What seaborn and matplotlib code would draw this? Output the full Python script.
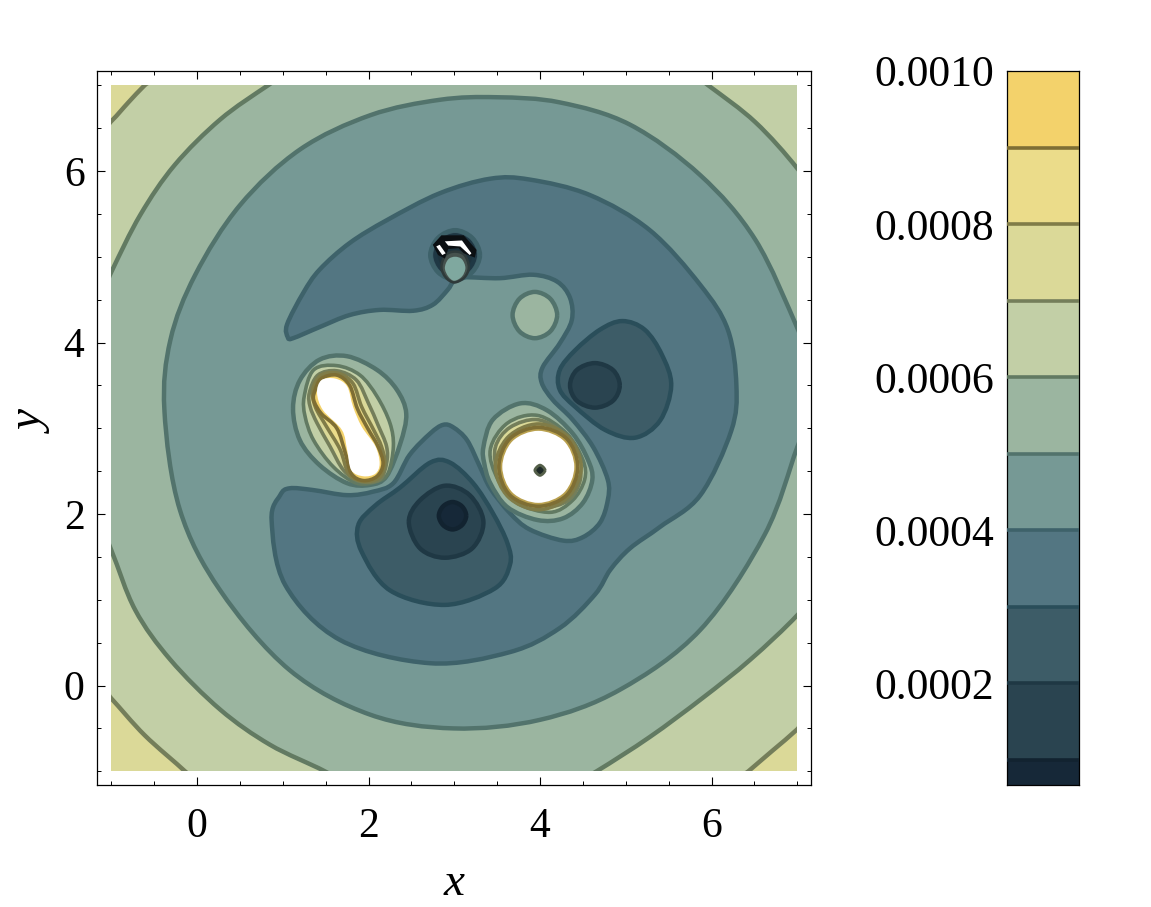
import numpy as np
import matplotlib
matplotlib.use("Agg")
import matplotlib.pyplot as plt
from matplotlib.path import Path
from matplotlib.patches import PathPatch, Rectangle
from matplotlib.colors import ListedColormap
from matplotlib.ticker import MultipleLocator
import seaborn as sns

# ---------- band colours and contour levels (value in units of 1e-4) ----------
CBAR_TICKS = [0.0002, 0.0004, 0.0006, 0.0008, 0.0010]
CBAR_LEVELS = [0.0009, 0.0008, 0.0007, 0.0006, 0.0005, 0.0004, 0.0003, 0.0002, 0.0001]
CBAR_BANDS = [0.00095, 0.00085, 0.00075, 0.00065, 0.00055, 0.00045, 0.00035, 0.00025, 0.00015, 0.00005]
BAND_COLORS = ["#F3D26B", "#EBDC8A", "#DBD998", "#C2CFA6", "#9BB5A0",
               "#769995", "#537682", "#3D5C67", "#2A4450", "#162838"]
EDGE_COLORS = {9: "#7E6E34", 8: "#807C48", 7: "#747E5A", 6: "#627A62", 5: "#52736C",
               4: "#3E626A", 3: "#2A4E5A", 2: "#1F3844", 1: "#122330"}

# ---------- contour traces (x, y in data units) ----------
corner_tl_x = [-1.30, -1.00, -0.80, -0.61, -0.35, -1.60]
corner_tl_y = [6.30, 6.58, 6.80, 7.00, 7.25, 7.60]
corner_bl_x = [-1.20, -1.00, -0.61, -0.14, 0.05, -1.60]
corner_bl_y = [0.05, -0.15, -0.58, -1.00, -1.20, -1.60]
corner_br_x = [6.20, 6.43, 6.71, 7.00, 7.20, 7.60]
corner_br_y = [-1.20, -1.00, -0.76, -0.51, -0.30, -1.60]

c6_x = [-1.00, -0.66, -0.26, 0.27, 0.83, 1.30, 3.00, 5.40, 5.96, 6.51, 7.00, 7.32, 8.00, 7.32, 7.00,
        6.45, 5.89, 5.28, 4.66, 4.17, 3.00, 1.90, 1.49, 0.85, 0.27, -0.31, -0.72, -1.00, -1.25, -2.00, -1.25]
c6_y = [4.82, 5.49, 6.07, 6.60, 7.00, 7.30, 8.00, 7.40, 7.00, 6.57, 6.03, 5.55, 3.00, 1.23, 0.82,
        0.30, -0.15, -0.60, -1.00, -1.28, -2.00, -1.25, -1.00, -0.69, -0.28, 0.30, 0.88, 1.58, 2.16, 3.50, 4.26]

c5_x = [-0.38, -0.31, -0.02, 0.50, 1.20, 2.02, 2.83, 3.50, 4.23, 5.05, 5.87, 6.51, 7.00, 7.21, 7.21,
        7.00, 6.62, 5.87, 4.93, 4.00, 2.99, 2.02, 1.08, 0.27, -0.20]
c5_y = [3.21, 4.03, 4.79, 5.60, 6.25, 6.65, 6.83, 6.86, 6.80, 6.54, 5.95, 5.20, 4.17, 3.62, 3.33,
        2.78, 1.76, 0.65, -0.05, -0.40, -0.50, -0.34, 0.18, 1.11, 2.05]

c4_x = [1.06, 1.05, 1.24, 1.43, 1.78, 2.22, 2.83, 3.42, 3.88, 4.58, 5.28, 5.87, 6.19, 6.29, 6.23,
        5.87, 5.40, 5.05, 4.82, 4.64, 4.23, 3.65, 2.72, 1.67, 1.03, 0.87, 0.97, 1.08, 1.35, 1.75, 2.05,
        2.29, 2.48, 2.72, 2.87, 2.99, 3.15, 3.30, 3.42, 3.65, 3.88, 4.27, 4.50, 4.70, 4.79, 4.79,
        4.62, 4.38, 4.15, 4.02, 4.03, 4.23, 4.37, 4.35, 4.20, 3.92, 3.53, 3.09, 2.99, 2.92, 2.75,
        2.52, 2.13, 1.78, 1.43, 1.12]
c4_y = [4.06, 4.21, 4.58, 4.85, 5.16, 5.43, 5.74, 5.91, 5.90, 5.72, 5.31, 4.67, 4.15, 3.50, 2.97,
        2.22, 1.85, 1.60, 1.35, 1.06, 0.67, 0.39, 0.26, 0.53, 1.17, 1.93, 2.22, 2.30, 2.28, 2.22, 2.26,
        2.36, 2.69, 2.94, 3.04, 3.01, 2.86, 2.55, 2.30, 2.01, 1.82, 1.69, 1.73, 1.90, 2.16, 2.40,
        2.78, 3.10, 3.33, 3.53, 3.71, 3.99, 4.26, 4.52, 4.71, 4.79, 4.75, 4.76, 4.71, 4.61, 4.44,
        4.37, 4.38, 4.32, 4.18, 4.05]

c3_low_x = [1.88, 2.08, 2.37, 2.72, 2.95, 3.22, 3.45, 3.62, 3.65, 3.47, 2.89, 2.25, 1.92]
c3_low_y = [1.87, 2.10, 2.31, 2.60, 2.60, 2.36, 2.01, 1.66, 1.41, 1.13, 0.94, 1.11, 1.56]
c2_low_x = [2.47, 2.60, 2.89, 3.18, 3.34, 3.21, 2.89, 2.60]
c2_low_y = [1.91, 2.16, 2.33, 2.22, 1.91, 1.60, 1.49, 1.60]
c1_low_x = [3.14, 3.09, 2.98, 2.87, 2.82, 2.87, 2.98, 3.09]
c1_low_y = [1.98, 2.09, 2.14, 2.09, 1.98, 1.87, 1.82, 1.87]

c3_up_x = [4.23, 4.41, 4.70, 4.96, 5.22, 5.42, 5.53, 5.40, 5.11, 4.76, 4.41, 4.23]
c3_up_y = [3.68, 3.91, 4.15, 4.25, 4.15, 3.86, 3.50, 3.09, 2.89, 2.98, 3.25, 3.45]
c2_up_x = [4.93, 4.85, 4.64, 4.43, 4.35, 4.43, 4.64, 4.85]
c2_up_y = [3.50, 3.68, 3.76, 3.68, 3.50, 3.32, 3.24, 3.32]

oval_x = [4.20, 4.12, 3.94, 3.76, 3.68, 3.76, 3.94, 4.12]
oval_y = [4.32, 4.51, 4.59, 4.51, 4.32, 4.13, 4.05, 4.13]

# left lobe
ll5_x = [1.12, 1.20, 1.43, 1.75, 2.10, 2.33, 2.44, 2.37, 2.21, 2.02, 1.75, 1.43, 1.20]
ll5_y = [3.23, 3.56, 3.80, 3.84, 3.68, 3.45, 3.17, 2.82, 2.44, 2.34, 2.36, 2.57, 2.86]
ll6_x = [1.25, 1.36, 1.63, 1.90, 2.10, 2.25, 2.29, 2.23, 2.10, 1.86, 1.59, 1.36, 1.26]
ll6_y = [3.37, 3.68, 3.73, 3.62, 3.37, 3.06, 2.79, 2.48, 2.38, 2.36, 2.55, 2.86, 3.14]
ll7_x = [1.31, 1.41, 1.63, 1.86, 2.00, 2.11, 2.21, 2.21, 2.13, 1.90, 1.71, 1.55, 1.40, 1.32]
ll7_y = [3.41, 3.62, 3.67, 3.56, 3.29, 3.04, 2.79, 2.59, 2.40, 2.38, 2.51, 2.79, 3.06, 3.25]
ll8_x = [1.35, 1.45, 1.65, 1.82, 1.92, 2.06, 2.15, 2.19, 2.12, 1.94, 1.77, 1.67, 1.51, 1.38]
ll8_y = [3.45, 3.62, 3.64, 3.52, 3.25, 2.98, 2.79, 2.59, 2.42, 2.38, 2.47, 2.75, 3.02, 3.25]
ll9_x = [1.38, 1.45, 1.63, 1.78, 1.87, 1.99, 2.11, 2.17, 2.10, 1.94, 1.80, 1.73, 1.63, 1.45, 1.36]
ll9_y = [3.45, 3.58, 3.62, 3.50, 3.23, 3.00, 2.79, 2.59, 2.44, 2.39, 2.47, 2.71, 3.00, 3.17, 3.33]
ll_hole_x = [1.40, 1.45, 1.61, 1.75, 1.82, 1.92, 2.08, 2.13, 2.08, 1.94, 1.80, 1.75, 1.69, 1.47]
ll_hole_y = [3.41, 3.56, 3.58, 3.49, 3.25, 3.02, 2.79, 2.59, 2.47, 2.44, 2.51, 2.75, 2.98, 3.21]

# right lobe
rl5_x = [3.34, 3.45, 3.77, 4.08, 4.38, 4.56, 4.61, 4.50, 4.27, 3.97, 3.62, 3.42, 3.35]
rl5_y = [2.78, 3.10, 3.29, 3.21, 2.94, 2.63, 2.40, 2.13, 1.95, 1.93, 2.08, 2.36, 2.59]
rl6_x = [3.42, 3.62, 3.97, 4.31, 4.50, 4.52, 4.38, 4.12, 3.73, 3.51]
rl6_y = [2.75, 3.06, 3.15, 2.94, 2.63, 2.40, 2.16, 2.02, 2.13, 2.40]
rl7_x = [3.48, 3.65, 3.97, 4.27, 4.44, 4.47, 4.33, 4.03, 3.69, 3.51]
rl7_y = [2.78, 3.01, 3.10, 2.94, 2.66, 2.40, 2.16, 2.08, 2.20, 2.48]
rl8_x = [4.48, 4.33, 3.98, 3.63, 3.48, 3.63, 3.98, 4.33]
rl8_y = [2.55, 2.90, 3.05, 2.90, 2.55, 2.20, 2.05, 2.20]
rl9_x = [4.44, 4.31, 3.98, 3.65, 3.52, 3.65, 3.98, 4.31]
rl9_y = [2.55, 2.88, 3.01, 2.88, 2.55, 2.22, 2.09, 2.22]
rl_hole_x = [4.40, 4.28, 3.98, 3.68, 3.56, 3.68, 3.98, 4.28]
rl_hole_y = [2.55, 2.85, 2.97, 2.85, 2.55, 2.25, 2.13, 2.25]
rl_dot_x = [4.06, 4.00, 3.94, 4.00]
rl_dot_y = [2.51, 2.57, 2.51, 2.45]

# spot near (3, 5)
spot3_x = [3.30, 3.21, 3.01, 2.81, 2.72, 2.81, 3.01, 3.21]
spot3_y = [5.02, 5.22, 5.31, 5.22, 5.02, 4.82, 4.73, 4.82]
spot2_x = [3.24, 3.17, 3.01, 2.85, 2.78, 2.85, 3.01, 3.17]
spot2_y = [5.02, 5.18, 5.25, 5.18, 5.02, 4.86, 4.79, 4.86]
spot_halo_x = [3.17, 3.12, 3.01, 2.90, 2.85, 2.90, 3.00, 3.12]
spot_halo_y = [4.88, 5.02, 5.06, 5.02, 4.88, 4.76, 4.70, 4.76]
spot_hole_x = [3.13, 3.09, 3.01, 2.93, 2.89, 2.93, 3.00, 3.09]
spot_hole_y = [4.87, 4.97, 5.00, 4.97, 4.87, 4.77, 4.72, 4.77]
black_x = [2.75, 2.85, 3.11, 3.26, 3.24, 3.11, 3.05, 2.93, 2.89, 2.81]
black_y = [5.14, 5.25, 5.25, 5.08, 4.99, 5.04, 5.10, 5.09, 4.98, 5.02]
white_a_x = [2.79, 2.83, 2.90, 2.86]
white_a_y = [5.12, 5.14, 5.04, 5.02]
white_b_x = [2.89, 3.09, 3.20, 3.18, 3.07, 2.93]
white_b_y = [5.18, 5.19, 5.04, 5.02, 5.12, 5.13]

X_TICKS = [0, 2, 4, 6]
Y_TICKS = [0, 2, 4, 6]

# ---------- theme ----------
sns.set_theme(style="ticks")
plt.rcParams["font.family"] = ["Liberation Serif", "DejaVu Serif"]


def smooth_path(xs, ys):
    """Closed smooth Bezier curve through the traced points."""
    p = np.column_stack([xs, ys])
    n = len(p)
    verts, codes = [p[0]], [Path.MOVETO]
    for i in range(n):
        a, b, c, d = p[i - 1], p[i], p[(i + 1) % n], p[(i + 2) % n]
        verts += [b + (c - a) / 6, c - (d - b) / 6, c]
        codes += [Path.CURVE4] * 3
    return Path(verts, codes)


fig = plt.figure(figsize=(11.51, 9.07), dpi=100)
W, H = 1151.0, 907.0
ax = fig.add_axes([97 / W, (H - 785) / H, 714 / W, 714 / H])
cax = fig.add_axes([1007 / W, (H - 785) / H, 72 / W, 714 / H])

ax.set_xlim(-1.166, 7.16)
ax.set_ylim(-1.16, 7.166)
clip = Rectangle((-1, -1), 8, 8, transform=ax.transData)


def add(xs, ys, fill, edge=None, lw=3.2, smooth=True, z=2):
    path = smooth_path(xs, ys) if smooth else Path(np.column_stack([xs, ys]), closed=False)
    patch = PathPatch(path, facecolor=fill, edgecolor=edge if edge else "none",
                      linewidth=lw if edge else 0, zorder=z, joinstyle="round")
    ax.add_patch(patch)
    patch.set_clip_path(clip)


ax.add_patch(Rectangle((-1, -1), 8, 8, facecolor=BAND_COLORS[3], edgecolor="none", zorder=1))

# outer field
for xs, ys in [(corner_tl_x, corner_tl_y), (corner_bl_x, corner_bl_y), (corner_br_x, corner_br_y)]:
    add(xs, ys, BAND_COLORS[2], EDGE_COLORS[7])
add(c6_x, c6_y, BAND_COLORS[4], EDGE_COLORS[6])
add(c5_x, c5_y, BAND_COLORS[5], EDGE_COLORS[5])
add(c4_x, c4_y, BAND_COLORS[6], EDGE_COLORS[4])

# wells
add(c3_low_x, c3_low_y, BAND_COLORS[7], EDGE_COLORS[3])
add(c2_low_x, c2_low_y, BAND_COLORS[8], EDGE_COLORS[2])
add(c1_low_x, c1_low_y, BAND_COLORS[9], EDGE_COLORS[1])
add(c3_up_x, c3_up_y, BAND_COLORS[7], EDGE_COLORS[3])
add(c2_up_x, c2_up_y, BAND_COLORS[8], EDGE_COLORS[2])

# bumps
add(oval_x, oval_y, BAND_COLORS[4], EDGE_COLORS[5])
for xs, ys, fill, lev in [(ll5_x, ll5_y, BAND_COLORS[4], 5), (ll6_x, ll6_y, BAND_COLORS[3], 6),
                          (ll7_x, ll7_y, BAND_COLORS[2], 7), (ll8_x, ll8_y, BAND_COLORS[1], 8),
                          (ll9_x, ll9_y, BAND_COLORS[0], 9),
                          (rl5_x, rl5_y, BAND_COLORS[4], 5), (rl6_x, rl6_y, BAND_COLORS[3], 6),
                          (rl7_x, rl7_y, BAND_COLORS[2], 7), (rl8_x, rl8_y, BAND_COLORS[1], 8),
                          (rl9_x, rl9_y, "#B9A04E", 9)]:
    add(xs, ys, fill, EDGE_COLORS[lev], lw=2.6 if lev > 5 else 3.2)
add(ll_hole_x, ll_hole_y, "white")
add(rl_hole_x, rl_hole_y, "white")
add(rl_dot_x, rl_dot_y, "#1E2A28", "#55604A", lw=2.0)

# spot near (3, 5)
add(spot3_x, spot3_y, BAND_COLORS[7], EDGE_COLORS[4])
add(spot2_x, spot2_y, "#1E333D", EDGE_COLORS[2])
add(spot_halo_x, spot_halo_y, "#46524E", "#2E3A3A", lw=1.8)
add(spot_hole_x, spot_hole_y, "#7FA89F")
add(black_x, black_y, "#0B0F12", smooth=False)
add(white_a_x, white_a_y, "white", smooth=False)
add(white_b_x, white_b_y, "white", smooth=False)

# axes furniture
ax.set_xticks(X_TICKS)
ax.set_yticks(Y_TICKS)
ax.xaxis.set_minor_locator(MultipleLocator(0.5))
ax.yaxis.set_minor_locator(MultipleLocator(0.5))
ax.tick_params(which="major", direction="in", length=6, width=0.8, top=True, right=True,
               labelsize=30, color="black", labelcolor="black")
ax.tick_params(axis="x", which="major", pad=16)
ax.tick_params(axis="y", which="major", pad=9)
ax.tick_params(which="minor", direction="in", length=3, width=0.7, top=True, right=True, color="black")
ax.grid(False)
for s in ax.spines.values():
    s.set_visible(True)
    s.set_linewidth(0.9)
    s.set_color("black")
ax.set_xlabel("x", fontsize=34, style="italic", color="black")
ax.set_ylabel("y", fontsize=34, style="italic", color="black")
ax.xaxis.set_label_coords(0.5, -0.108)
ax.yaxis.set_label_coords(-0.06, 0.508)

# colour bar
bands = np.array(CBAR_BANDS).reshape(-1, 1)
sns.heatmap(bands, ax=cax, cmap=ListedColormap(BAND_COLORS[::-1]), vmin=0, vmax=0.0010,
            cbar=False, xticklabels=False, yticklabels=False)
pos = lambda v: (0.0010 - v) / 0.0001
cax.set_ylim(pos(0.000067), 0)
for lev, v in zip(range(9, 0, -1), CBAR_LEVELS):
    cax.axhline(pos(v), color=EDGE_COLORS[lev], lw=2.6, zorder=3)
for s in cax.spines.values():
    s.set_visible(True)
    s.set_linewidth(0.9)
    s.set_color("black")
cax.set_yticks([pos(v) for v in CBAR_TICKS])
cax.set_yticklabels([f"{v:.4f}" for v in CBAR_TICKS])
cax.yaxis.set_minor_locator(MultipleLocator(0.5))
cax.tick_params(axis="y", which="major", direction="in", length=3, width=0.8, labelsize=31.5, pad=9,
                color="black", labelcolor="black", labelrotation=0)
cax.tick_params(axis="y", which="minor", direction="in", length=1.5, width=0.7, color="black")
cax.tick_params(axis="x", length=0)

fig.savefig("out.png", dpi=100, facecolor="white")
